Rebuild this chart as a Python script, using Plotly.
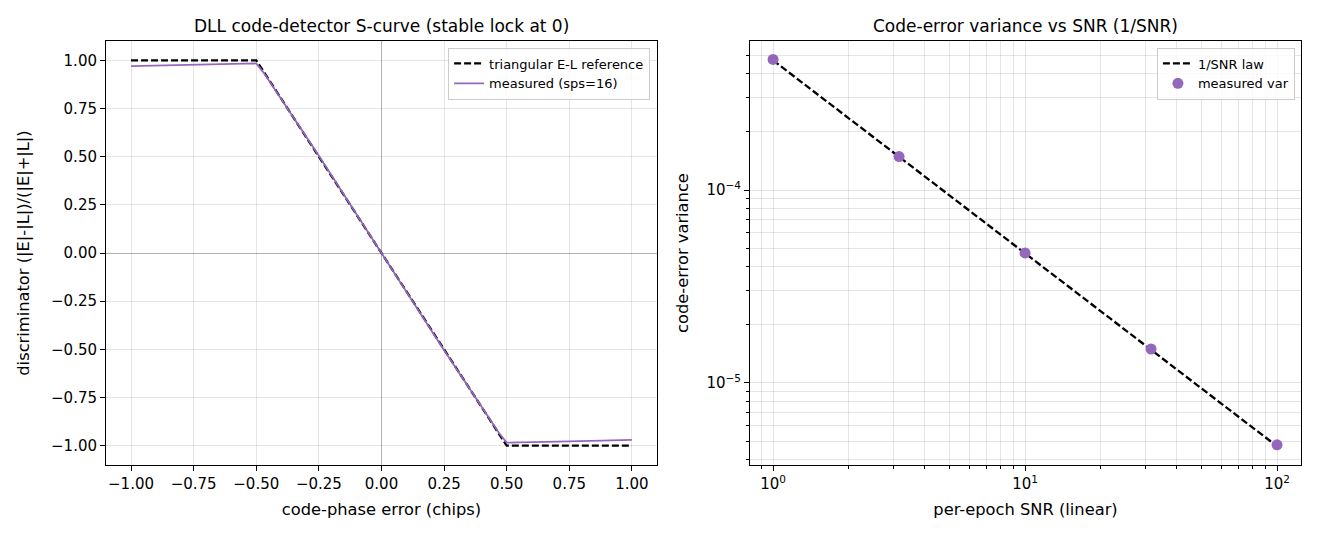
import plotly.graph_objects as go

# Left panel data
ref_x = [-1.0, -0.5, 0.5, 1.0]
ref_y = [1.0, 1.0, -1.0, -1.0]
meas_x = [-1.0, -0.75, -0.5, -0.47, -0.25, 0.0, 0.25, 0.47, 0.5, 0.75, 1.0]
meas_y = [0.970, 0.977, 0.984, 0.935, 0.505, 0.0, -0.505, -0.935, -0.984, -0.977, -0.970]

# Right panel data
snr = [1.0, 3.1623, 10.0, 31.623, 100.0]
law_var = [4.7e-4, 1.486e-4, 4.7e-5, 1.486e-5, 4.7e-6]
meas_var = [4.75e-4, 1.49e-4, 4.72e-5, 1.50e-5, 4.78e-6]

ticks_lin = [-1.0, -0.75, -0.5, -0.25, 0.0, 0.25, 0.5, 0.75, 1.0]

FONT = "DejaVu Sans"
PURPLE = "#9467bd"
GRID = "rgba(0,0,0,0.10)"

fig = go.Figure()
fig.add_trace(go.Scatter(x=ref_x, y=ref_y, mode="lines", name="triangular E-L reference",
                         line=dict(color="black", width=2.3, dash="7px,3px"),
                         xaxis="x", yaxis="y", legend="legend"))
fig.add_trace(go.Scatter(x=meas_x, y=meas_y, mode="lines", name="measured (sps=16)",
                         line=dict(color=PURPLE, width=1.8),
                         xaxis="x", yaxis="y", legend="legend"))
fig.add_trace(go.Scatter(x=snr, y=law_var, mode="lines", name="1/SNR law",
                         line=dict(color="black", width=2.3, dash="7px,3px"),
                         xaxis="x2", yaxis="y2", legend="legend2"))
fig.add_trace(go.Scatter(x=snr, y=meas_var, mode="markers", name="measured var",
                         marker=dict(color=PURPLE, size=11),
                         xaxis="x2", yaxis="y2", legend="legend2"))

axis_common = dict(showline=True, linecolor="black", linewidth=1, mirror=True,
                   ticks="outside", ticklen=5, tickcolor="black",
                   showgrid=True, gridcolor=GRID, gridwidth=1,
                   tickfont=dict(family=FONT, size=15, color="black"),
                   title_font=dict(family=FONT, size=16.3, color="black"))

xminor = [m * 10 ** e for e in [-1, 0, 1, 2] for m in range(2, 10)]
yminor = [m * 10 ** e for e in [-6, -5, -4] for m in range(2, 10)]

fig.update_layout(
    width=1320, height=540,
    margin=dict(l=0, r=0, t=0, b=0),
    paper_bgcolor="white", plot_bgcolor="white",
    showlegend=True,
    xaxis=dict(domain=[0.0803, 0.4977], range=[-1.1, 1.1], tickvals=ticks_lin, tickformat=".2f",
               zeroline=True, zerolinecolor="rgba(0,0,0,0.3)", zerolinewidth=1,
               title=dict(text="code-phase error (chips)", standoff=11), anchor="y", **axis_common),
    yaxis=dict(domain=[0.1389, 0.924], range=[-1.1, 1.1], tickvals=ticks_lin, tickformat=".2f",
               zeroline=True, zerolinecolor="rgba(0,0,0,0.3)", zerolinewidth=1,
               title=dict(text="discriminator (|E|-|L|)/(|E|+|L|)", standoff=17), anchor="x", **axis_common),
    xaxis2=dict(domain=[0.5682, 0.9856], type="log", range=[-0.0915, 2.095],
                tickvals=[1, 10, 100], ticktext=["10<sup>0</sup>", "10<sup>1</sup>", "10<sup>2</sup>"],
                minor=dict(tickvals=xminor, ticks="outside", ticklen=3, tickcolor="black",
                           showgrid=True, gridcolor=GRID),
                zeroline=False,
                title=dict(text="per-epoch SNR (linear)", standoff=11), anchor="y2", **axis_common),
    yaxis2=dict(domain=[0.1389, 0.924], type="log", range=[-5.425, -3.228],
                tickvals=[1e-5, 1e-4], ticktext=["10<sup>−5</sup>", "10<sup>−4</sup>"],
                minor=dict(tickvals=yminor, ticks="outside", ticklen=3, tickcolor="black",
                           showgrid=True, gridcolor=GRID),
                zeroline=False,
                title=dict(text="code-error variance", standoff=13), anchor="x2", **axis_common),
    legend=dict(x=0.4925, y=0.912, xanchor="right", yanchor="top",
                bgcolor="rgba(255,255,255,0.8)", bordercolor="#cccccc", borderwidth=1,
                font=dict(family=FONT, size=13, color="black"), tracegroupgap=0,
                itemwidth=30),
    legend2=dict(x=0.981, y=0.912, xanchor="right", yanchor="top",
                 bgcolor="rgba(255,255,255,0.8)", bordercolor="#cccccc", borderwidth=1,
                 font=dict(family=FONT, size=13, color="black"), tracegroupgap=0,
                 itemwidth=30),
    annotations=[
        dict(text="DLL code-detector S-curve (stable lock at 0)", x=0.289, y=0.924,
             xref="paper", yref="paper", xanchor="center", yanchor="bottom", yshift=3,
             showarrow=False, font=dict(family=FONT, size=17, color="black")),
        dict(text="Code-error variance vs SNR (1/SNR)", x=0.7769, y=0.924,
             xref="paper", yref="paper", xanchor="center", yanchor="bottom", yshift=3,
             showarrow=False, font=dict(family=FONT, size=17, color="black")),
    ],
)

fig.write_html("out.html")
